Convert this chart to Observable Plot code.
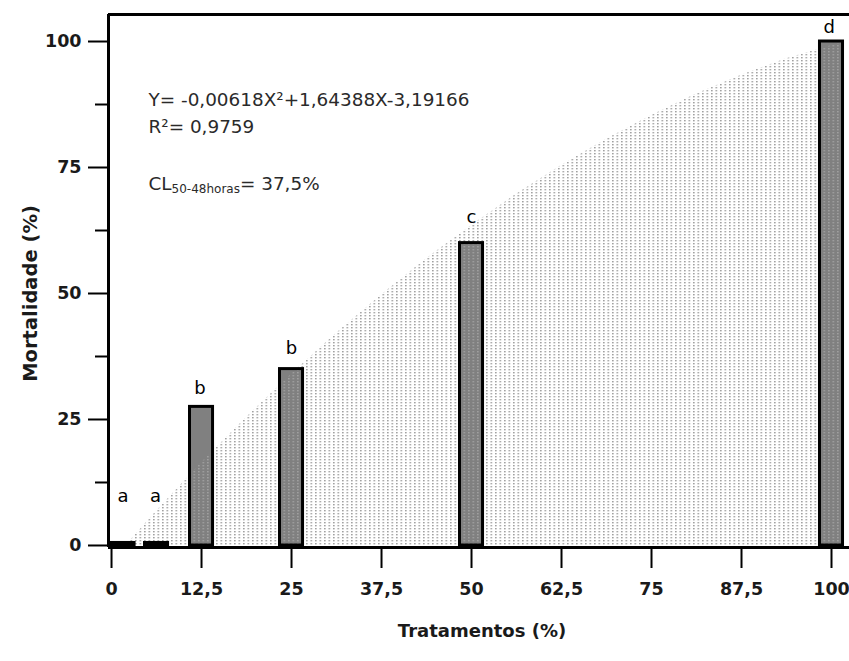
<!DOCTYPE html>
<html><head><meta charset="utf-8">
<script src="https://cdn.jsdelivr.net/npm/d3@7"></script>
<script src="https://cdn.jsdelivr.net/npm/@observablehq/plot@0.6"></script>
<style>body{margin:0;background:#fff;} svg{display:block;}</style>
</head><body><div id="chart"></div>
<script>
// Data
const treatments = [1.6, 6.25, 12.5, 25, 50, 100];
const mortality = [0.5, 0.5, 27.5, 35, 60, 100];
const letters = ["a", "a", "b", "b", "c", "d"];
const letterX = [1.6, 6.1, 12.3, 25, 50, 99.7];
const letterY = [9.7, 9.7, 31.2, 39.1, 65.1, 102.8];
const curveX = [2, 6.25, 12.5, 18.75, 25, 31.25, 37.5, 43.75, 50, 56.25, 62.5, 68.75, 75, 81.25, 87.5, 93.75, 101.5];
const curveY = [0, 6.8, 16.4, 25.4, 34.0, 42.1, 49.7, 56.9, 63.5, 69.7, 75.4, 80.6, 85.3, 89.6, 93.3, 96.6, 99.8];
const xTicks = [0, 12.5, 25, 37.5, 50, 62.5, 75, 87.5, 100];
const yTicks = [0, 25, 50, 75, 100];
const yMinorTicks = [12.5, 37.5, 62.5, 87.5];
const xDomain = [-0.42, 102.5];
const yDomain = [-0.4, 105.36];
const equation = "Y= -0,00618X²+1,64388X-3,19166";
const r2 = "R²= 0,9759";
const cl = ["CL", "50-48horas", "= 37,5%"];
const xTitle = "Tratamentos (%)";
const yTitle = "Mortalidade (%)";

const bars = treatments.map((x, i) => ({x, y: mortality[i]}));
const curve = curveX.map((x, i) => ({x, y: curveY[i]}));
const labels = letters.map((t, i) => ({t, x: letterX[i], y: letterY[i]}));
const halfWidth = 1.6;
const fmt = d => String(d).replace(".", ",");

const plot = Plot.plot({
  width: 849, height: 661,
  marginTop: 14, marginBottom: 114, marginLeft: 108, marginRight: 0,
  style: {fontFamily: "DejaVu Sans", background: "#fff", color: "#000"},
  x: {domain: xDomain, label: null},
  y: {domain: yDomain, label: null},
  marks: [
    Plot.rectY(bars, {x1: d => d.x - halfWidth, x2: d => d.x + halfWidth, y1: 0, y2: "y", fill: "#808080"}),
    Plot.areaY(curve, {x: "x", y: "y", fill: "url(#stipple)"}),
    Plot.rectY(bars, {x1: d => d.x - halfWidth, x2: d => d.x + halfWidth, y1: 0, y2: "y", fill: "none", stroke: "#000", strokeWidth: 3}),
    Plot.ruleY([yDomain[0]], {stroke: "#000", strokeWidth: 3}),
    Plot.ruleY([yDomain[1]], {stroke: "#000", strokeWidth: 3}),
    Plot.ruleX([xDomain[0]], {stroke: "#000", strokeWidth: 3}),
    Plot.axisX({ticks: xTicks, tickFormat: fmt, tickSize: 21, tickPadding: 14, fontSize: 17.5, fontWeight: "bold", strokeWidth: 2, label: null, fill: "#1a1a1a"}),
    Plot.axisY({ticks: yTicks, tickSize: 20, tickPadding: 7, fontSize: 17.5, fontWeight: "bold", strokeWidth: 2, label: null, fill: "#1a1a1a"}),
    Plot.axisY({ticks: yMinorTicks, tickSize: 13, tickFormat: () => "", strokeWidth: 2, label: null}),
    Plot.text(labels, {x: "x", y: "y", text: "t", fontSize: 18, fill: "#000"}),
    Plot.text([equation], {text: d => d, frameAnchor: "top-left", dx: 40, dy: 78, textAnchor: "start", fontSize: 18.4, fill: "#2a2a2a"}),
    Plot.text([r2], {text: d => d, frameAnchor: "top-left", dx: 40, dy: 105, textAnchor: "start", fontSize: 18.4, fill: "#2a2a2a"}),
    Plot.text([cl.join("")], {text: d => d, frameAnchor: "top-left", dx: 40, dy: 162, textAnchor: "start", fontSize: 18.4, fill: "#2a2a2a"}),
    Plot.text([yTitle], {text: d => d, y: () => 50, frameAnchor: "left", textAnchor: "middle", dx: -78, rotate: -90, fontSize: 19.5, fontWeight: "bold", fill: "#1a1a1a"}),
    Plot.text([xTitle], {text: d => d, frameAnchor: "bottom", dy: 89, dx: 3, fontSize: 18, fontWeight: "bold", fill: "#1a1a1a"})
  ]
});

d3.select(plot).insert("defs", ":first-child").html(
  `<pattern id="stipple" patternUnits="userSpaceOnUse" width="4.5" height="3">
     <rect x="0" y="0" width="1.6" height="1.4" fill="#a0a0a0"/>
   </pattern>`);

d3.select(plot).selectAll("text").filter(function() { return this.textContent === cl.join(""); }).each(function() {
  const t = d3.select(this);
  t.text("");
  t.append("tspan").text(cl[0]);
  t.append("tspan").attr("font-size", 12).attr("dy", 3).text(cl[1]);
  t.append("tspan").attr("dy", -3).text(cl[2]);
});

document.getElementById("chart").appendChild(plot);
</script>
</body></html>
